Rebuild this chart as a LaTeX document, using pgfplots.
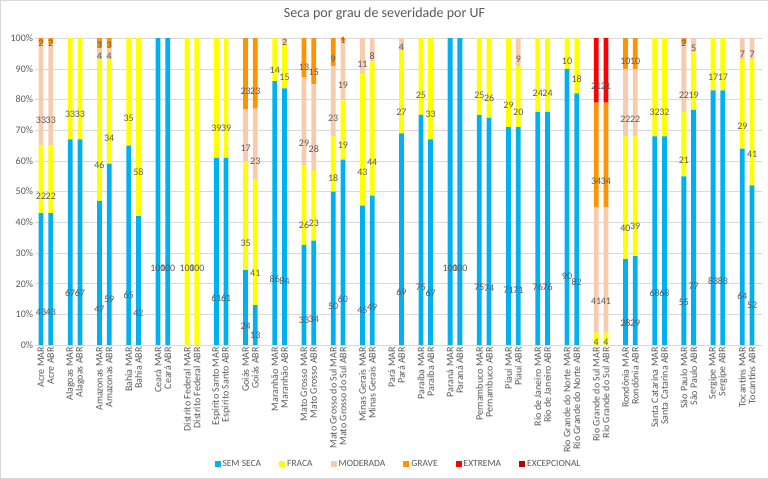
\documentclass[border=0pt]{standalone}
\usepackage{pgfplots}
\pgfplotsset{compat=1.18}
\usepackage{pgfplotstable}
\usepackage{fontspec}
\setmainfont{Carlito}

\definecolor{semseca}{HTML}{00B0F0}
\definecolor{fraca}{HTML}{FFFF00}
\definecolor{moderada}{HTML}{F8CBAD}
\definecolor{grave}{HTML}{FF9300}
\definecolor{extrema}{HTML}{FF0000}
\definecolor{excep}{HTML}{C00000}
\definecolor{txt}{HTML}{595959}
\definecolor{grd}{HTML}{D9D9D9}

% centre the value labels inside each stacked segment
% (the style ends up applied twice, hence the quarter)
\makeatletter
\pgfplotsset{
  half offset/.code={
    \pgfkeys{/pgf/fpu=true,/pgf/fpu/output format=fixed}
    \pgfmathsetmacro\halfoff{\pgfplotspointmeta*\pgfplots@y@veclength*0.25}
    \pgfkeys{/pgf/fpu=false}
  },
}
\makeatother

\pgfplotstableread[col sep=comma]{
x,sem,fra,mod,gra,ext,exc,lab
0,43,22,33,2,0,0,Acre MAR
1,43,22,33,2,0,0,Acre ABR
3,67,33,0,0,0,0,Alagoas MAR
4,67,33,0,0,0,0,Alagoas ABR
6,47,46,4,3,0,0,Amazonas MAR
7,59,34,4,3,0,0,Amazonas ABR
9,65,35,0,0,0,0,Bahia MAR
10,42,58,0,0,0,0,Bahia ABR
12,100,0,0,0,0,0,Ceará MAR
13,100,0,0,0,0,0,Ceará ABR
15,0,100,0,0,0,0,Distrito Federal MAR
16,0,100,0,0,0,0,Distrito Federal ABR
18,61,39,0,0,0,0,Espírito Santo MAR
19,61,39,0,0,0,0,Espírito Santo ABR
21,24.4,35.4,17,23.2,0,0,Goiás MAR
22,13,41,23,23,0,0,Goiás ABR
24,86,14,0,0,0,0,Maranhão MAR
25,83.6,14.8,1.6,0,0,0,Maranhão ABR
27,32.6,26,28.7,12.7,0,0,Mato Grosso MAR
28,34,23,28,15,0,0,Mato Grosso ABR
30,50,18,23,9,0,0,Mato Grosso do Sul MAR
31,60.4,19.3,19.4,0.9,0,0,Mato Grosso do Sul ABR
33,45.4,43.3,11.3,0,0,0,Minas Gerais MAR
34,48.7,43.7,7.6,0,0,0,Minas Gerais ABR
36,0,0,0,0,0,0,Pará MAR
37,69,27,4,0,0,0,Pará ABR
39,75,25,0,0,0,0,Paraíba MAR
40,67,33,0,0,0,0,Paraíba ABR
42,100,0,0,0,0,0,Paraná MAR
43,100,0,0,0,0,0,Paraná ABR
45,75,25,0,0,0,0,Pernambuco MAR
46,74,26,0,0,0,0,Pernambuco ABR
48,71,29,0,0,0,0,Piauí MAR
49,71,20,9,0,0,0,Piauí ABR
51,76,24,0,0,0,0,Rio de Janeiro MAR
52,76,24,0,0,0,0,Rio de Janeiro ABR
54,90,10,0,0,0,0,Rio Grande do Norte MAR
55,82,18,0,0,0,0,Rio Grande do Norte ABR
57,0,4,41,34,21,0,Rio Grande do Sul MAR
58,0,4,41,34,21,0,Rio Grande do Sul ABR
60,28,40,22,10,0,0,Rondônia MAR
61,29,39,22,10,0,0,Rondônia ABR
63,68,32,0,0,0,0,Santa Catarina MAR
64,68,32,0,0,0,0,Santa Catarina ABR
66,55,21,22,2,0,0,São Paulo MAR
67,76.6,18.8,4.6,0,0,0,São Paulo ABR
69,83,17,0,0,0,0,Sergipe MAR
70,83,17,0,0,0,0,Sergipe ABR
72,64,29,7,0,0,0,Tocantins MAR
73,52,41,7,0,0,0,Tocantins ABR
}\seca

\begin{document}
\begin{tikzpicture}
\draw[grd] (0,0) rectangle (768pt,478pt);
\begin{axis}[
  at={(35pt,133pt)}, anchor=south west,
  scale only axis, width=727pt, height=307pt,
  disabledatascaling,
  ybar stacked, bar width=4.8pt,
  xmin=-0.6, xmax=74, ymin=0, ymax=100,
  enlargelimits=false, clip=false,
  axis line style={draw=none},
  major tick length=0pt,
  ymajorgrids, grid style={grd, line width=0.6pt},
  ytick={0,10,...,100},
  yticklabel={\pgfmathprintnumber{\tick}\%},
  xtick=data,
  xticklabels from table={\seca}{lab},
  x tick label style={rotate=90, anchor=east, font=\fontsize{10}{11}\selectfont, text=txt, inner sep=2pt},
  y tick label style={font=\fontsize{10}{11}\selectfont, text=txt, inner sep=2pt},
  /pgf/number format/assume math mode=true,
  title={Seca por grau de severidade por UF},
  title style={at={(0.5,1)}, anchor=center, yshift=18pt, xshift=-14pt,
    font=\fontsize{14}{16}\selectfont, text=txt},
  point meta=explicit,
  nodes near coords={\pgfmathprintnumber[fixed,precision=0]{\pgfplotspointmeta}},
  every node near coord/.style={/pgfplots/half offset, anchor=center,
    yshift=-\halfoff pt, inner sep=0pt, font=\fontsize{10}{11}\selectfont, text=txt},
  legend style={at={(0.5,0)}, anchor=center, yshift=-119pt, draw=none,
    font=\fontsize{9.5}{11}\selectfont, text=txt,
    /tikz/every even column/.append style={column sep=16pt}},
  legend columns=-1,
  legend image code/.code={\fill[#1] (0pt,-3pt) rectangle (6pt,3pt);},
]
\addplot[fill=semseca, draw=none] table[x=x, y=sem, meta=sem] {\seca};
\addplot[fill=fraca, draw=none] table[x=x, y=fra, meta=fra] {\seca};
\addplot[fill=moderada, draw=none] table[x=x, y=mod, meta=mod] {\seca};
\addplot[fill=grave, draw=none] table[x=x, y=gra, meta=gra] {\seca};
\addplot[fill=extrema, draw=none] table[x=x, y=ext, meta=ext] {\seca};
\addplot[fill=excep, draw=none] table[x=x, y=exc, meta=exc] {\seca};
\legend{SEM SECA, FRACA, MODERADA, GRAVE, EXTREMA, EXCEPCIONAL}
\end{axis}
\end{tikzpicture}
\end{document}
